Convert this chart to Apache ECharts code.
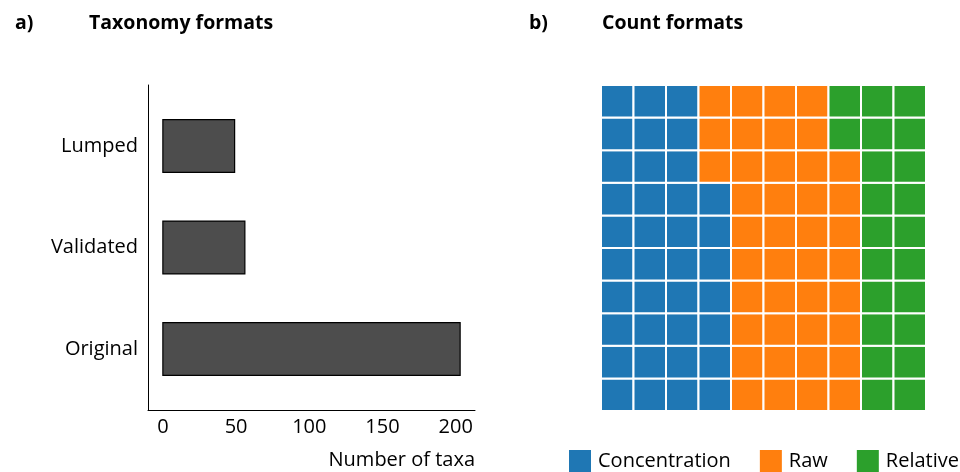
<!DOCTYPE html>
<html>
<head>
<meta charset="utf-8">
<script src="https://cdn.jsdelivr.net/npm/echarts@6/dist/echarts.min.js"></script>
<style>html,body{margin:0;padding:0;background:#fff;}#c{width:960px;height:472px;}</style>
</head>
<body>
<div id="c"></div>
<script>
// Panel a) taxonomy formats
const taxCategories = ['Original', 'Validated', 'Lumped'];
const taxValues = [203, 56, 49];
const taxTicks = [0, 50, 100, 150, 200];

// Panel b) count formats (waffle of 100 cells)
const countCategories = ['Concentration', 'Raw', 'Relative'];
const countValues = [37, 41, 22];
const countColors = ['#1f77b4', '#ff7f0e', '#2ca02c'];

const FONT = 'Open Sans';
const waffleRows = 10;

// waffle layout: fill column by column, bottom to top
const waffleCells = countCategories.map(() => []);
let k = 0;
countValues.forEach((n, s) => {
  for (let j = 0; j < n; j++, k++) {
    waffleCells[s].push([Math.floor(k / waffleRows), k % waffleRows]);
  }
});

const chart = echarts.init(document.getElementById('c'), null, {renderer: 'canvas'});

const barData = taxValues.map((v, i) => [v, i]);
const titleStyle = {fontFamily: FONT, fontWeight: 'bold', fontSize: 19.5, color: '#000'};

const option = {
  animation: false,
  backgroundColor: '#fff',
  textStyle: {fontFamily: FONT},
  title: [
    {text: 'a)', left: 10, top: 8, textStyle: titleStyle},
    {text: 'Taxonomy formats', left: 84, top: 8, textStyle: titleStyle},
    {text: 'b)', left: 524, top: 8, textStyle: titleStyle},
    {text: 'Count formats', left: 597, top: 8, textStyle: titleStyle}
  ],
  legend: {
    data: countCategories,
    left: 569,
    top: 450,
    padding: 0,
    itemWidth: 22,
    itemHeight: 22,
    itemGap: 29,
    icon: 'rect',
    textStyle: {fontFamily: FONT, fontSize: 20, color: '#000', padding: [0, 0, 0, 2]}
  },
  grid: [
    {left: 148, top: 85, width: 327, height: 325},
    {left: 601, top: 85, width: 325, height: 326}
  ],
  xAxis: [
    {
      gridIndex: 0, type: 'value', min: -10.15, max: 213.15,
      splitLine: {show: false},
      axisLine: {show: true, onZero: false, lineStyle: {color: '#000', width: 1}},
      axisTick: {show: false},
      axisLabel: {customValues: taxTicks, fontSize: 20, color: '#000', margin: 7},
      name: 'Number of taxa',
      nameLocation: 'end',
      nameGap: 0,
      nameTextStyle: {fontFamily: FONT, fontSize: 20, color: '#000', align: 'right', verticalAlign: 'top', padding: [40, 0, 0, 0]}
    },
    {gridIndex: 1, type: 'value', min: 0, max: 10, show: false}
  ],
  yAxis: [
    {
      gridIndex: 0, type: 'value', min: -0.6, max: 2.6,
      splitLine: {show: false},
      axisLine: {show: true, onZero: false, lineStyle: {color: '#000', width: 1}},
      axisTick: {show: false},
      axisLabel: {customValues: [0, 1, 2], formatter: v => taxCategories[Math.round(v)], fontSize: 20, color: '#000', margin: 10}
    },
    {gridIndex: 1, type: 'value', min: 0, max: 10, show: false}
  ],
  series: [
    {
      type: 'custom',
      xAxisIndex: 0, yAxisIndex: 0,
      data: barData,
      renderItem: function (params, api) {
        const v = api.value(0), i = api.value(1);
        const p0 = api.coord([0, i + 0.26]);
        const p1 = api.coord([v, i - 0.26]);
        return {
          type: 'rect',
          shape: {x: p0[0], y: p0[1], width: p1[0] - p0[0], height: p1[1] - p0[1]},
          style: {fill: '#4d4d4d', stroke: '#000', lineWidth: 1.2}
        };
      }
    }
  ].concat(countCategories.map((name, s) => ({
    type: 'custom',
    name: name,
    xAxisIndex: 1, yAxisIndex: 1,
    itemStyle: {color: countColors[s]},
    data: waffleCells[s],
    renderItem: function (params, api) {
      const c = api.value(0), r = api.value(1);
      const p0 = api.coord([c, r + 1]);
      const p1 = api.coord([c + 1, r]);
      return {
        type: 'rect',
        shape: {x: p0[0], y: p0[1], width: p1[0] - p0[0], height: p1[1] - p0[1]},
        style: {fill: countColors[s], stroke: '#fff', lineWidth: 2}
      };
    }
  })))
};

chart.setOption(option);
</script>
</body>
</html>
